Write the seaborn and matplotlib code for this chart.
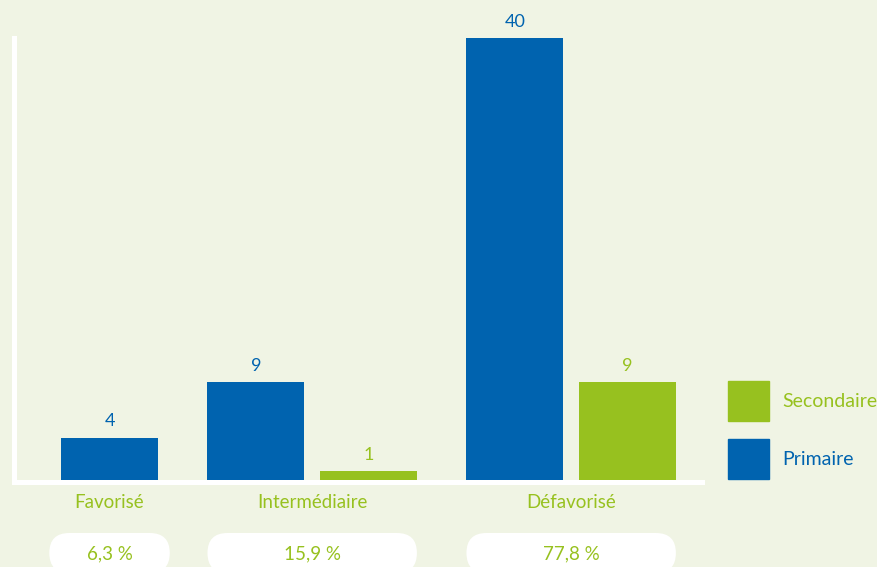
import pandas as pd
import matplotlib.pyplot as plt
import matplotlib.transforms as mtransforms
from matplotlib.patches import FancyBboxPatch, Patch
import seaborn as sns

# données
categories = ['Favorisé', 'Intermédiaire', 'Défavorisé']
primaire = [4, 9, 40]
secondaire = [None, 1, 9]
parts = ['6,3 %', '15,9 %', '77,8 %']
niveaux = ['Primaire', 'Secondaire']

bg = '#f0f4e4'
bleu = '#0063af'
vert = '#97c11f'
couleurs = {'Primaire': bleu, 'Secondaire': vert}

# positions des barres : pas de 1 dans un groupe, 1.3 entre groupes
rows = []
groupes = []
pos = 0.0
for i, cat in enumerate(categories):
    debut = pos
    for niv, vals in zip(niveaux, [primaire, secondaire]):
        if vals[i] is None:
            continue
        rows.append({'categorie': cat, 'niveau': niv, 'valeur': vals[i], 'pos': pos})
        pos += 1.0
    groupes.append((debut, pos - 1.0))
    pos += 0.3
df = pd.DataFrame(rows)

sns.set_style('white', {'axes.facecolor': bg, 'figure.facecolor': bg})
plt.rcParams['font.family'] = ['Lato', 'DejaVu Sans']

fig = plt.figure(figsize=(8.78, 5.67), dpi=100)
fig.patch.set_facecolor(bg)
ax = fig.add_axes([14.5 / 878, 1 - 482 / 567, (702 - 14.5) / 878, 444 / 567])

largeur = 0.86
sns.barplot(data=df, x='pos', y='valeur', hue='niveau', palette=couleurs,
            native_scale=True, dodge=False, width=largeur, errorbar=None,
            orient='x', saturation=1, linewidth=0, ax=ax, legend=False)

ax.set_xlim(-0.844, 5.262)
ax.set_ylim(0, 40)
ax.set_xticks([])
ax.set_yticks([])
ax.set_xlabel('')
ax.set_ylabel('')
for s in ['top', 'right']:
    ax.spines[s].set_visible(False)
for s in ['left', 'bottom']:
    ax.spines[s].set_color('white')
    ax.spines[s].set_linewidth(3.6)
    ax.spines[s].set_zorder(5)

# étiquettes de valeurs
for _, r in df.iterrows():
    ax.annotate(str(r['valeur']), (r['pos'], r['valeur']), xytext=(0, 8),
                textcoords='offset points', ha='center', va='baseline',
                fontsize=13, color=couleurs[r['niveau']], annotation_clip=False)

# catégories et pourcentages dans des pastilles blanches
trans = ax.get_xaxis_transform()
ident = mtransforms.IdentityTransform()
for (g0, g1), cat, pct in zip(groupes, categories, parts):
    centre = (g0 + g1) / 2
    ax.text(centre, -0.047, cat, transform=trans, ha='center', va='center',
            fontsize=13.5, color=vert, clip_on=False)
    gauche = g0 - largeur / 2
    droite = g1 + largeur / 2
    if droite - gauche < 1.07:
        gauche, droite = centre - 0.535, centre + 0.535
    xg = ax.transData.transform((gauche, 0))[0]
    xd = ax.transData.transform((droite, 0))[0]
    xc = ax.transData.transform((centre, 0))[0]
    pastille = FancyBboxPatch((xg, -6), xd - xg, 40,
                              boxstyle='round,pad=0,rounding_size=20',
                              fc='white', ec='none', transform=ident, zorder=1)
    fig.add_artist(pastille)
    fig.text(xc, 13, pct, transform=ident, ha='center', va='center',
             fontsize=13.5, color=vert, zorder=2)

# légende
poignees = [Patch(color=vert), Patch(color=bleu)]
ax.legend(poignees, ['Secondaire', 'Primaire'], loc='upper left',
          bbox_to_anchor=(728 / 878, 1 - 381 / 567), bbox_transform=fig.transFigure,
          frameon=False, fontsize=14, borderpad=0, borderaxespad=0,
          handlelength=2.1, handleheight=2.75, labelspacing=0.95,
          handletextpad=0.7, labelcolor=[vert, bleu])

fig.savefig('out.png', dpi=100, facecolor=bg)
